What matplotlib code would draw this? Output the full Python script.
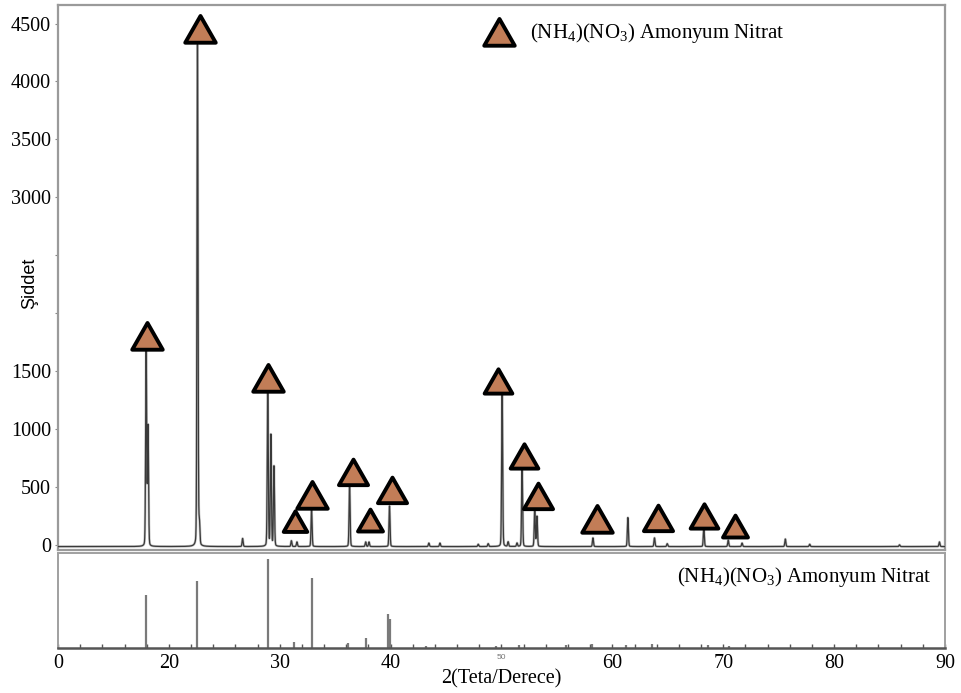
import numpy as np
import matplotlib.pyplot as plt
from matplotlib.path import Path
from matplotlib.transforms import offset_copy

# Measured diffraction peaks: position (2-theta), net counts above background
peak_theta = [17.95, 18.12, 22.58, 22.75, 26.65, 28.92, 29.20, 29.48, 31.05, 31.55,
              32.87, 36.30, 37.75, 38.05, 39.90, 43.45, 44.45, 47.90, 48.80, 50.06,
              50.60, 51.40, 51.86, 53.00, 53.20, 58.25, 61.40, 63.80, 64.95, 68.25,
              70.45, 71.70, 75.60, 77.80, 85.90, 89.50]
peak_counts = [1680, 1030, 4330, 190, 70, 1330, 960, 690, 50, 40,
               320, 530, 40, 40, 350, 30, 30, 20, 25, 1320,
               40, 30, 680, 310, 260, 75, 250, 75, 25, 160,
               55, 30, 65, 20, 15, 40]
background = -15

# Phase markers (ammonium nitrate)
marker_theta = [18.0, 22.8, 28.9, 31.4, 32.9, 36.6, 38.1, 40.1, 49.7, 52.0,
                53.3, 58.6, 64.1, 68.3, 71.1]
marker_counts = [1650, 4300, 1290, 50, 280, 480, 60, 320, 1260, 610,
                 270, 70, 75, 100, 10]
marker_size = [22, 22, 22, 17, 22, 21, 18, 21, 20, 20,
               21, 22, 21, 20, 18]

# Reference stick pattern, relative intensity
ref_theta = [17.90, 22.55, 28.95, 31.30, 32.90, 36.20, 37.80, 39.80, 39.90,
             43.20, 49.50, 51.60, 55.80, 58.20, 61.20, 63.60, 68.60, 70.50]
ref_int = [60, 76, 100, 7, 79, 6, 11, 38, 33,
           2, 2, 3, 3, 4, 3, 5, 3, 2]

y_ticks = [0, 500, 1000, 1500, 2000, 2500, 3000, 3500, 4000, 4500]
y_labels = ['0', '500', '1000', '1500', '', '', '3000', '3500', '4000', '4500']
x_ticks = [10, 20, 30, 40, 50, 60, 70, 80, 90]
x_labels = ['0', '20', '30', '40', '50', '60', '70', '80', '90']

serif = 'Liberation Serif'
tri_color = '#c27d57'
plt.rcParams['mathtext.fontset'] = 'custom'
plt.rcParams['mathtext.rm'] = serif
plt.rcParams['mathtext.it'] = serif + ':italic'

tri = Path([(-1, -0.8), (1, -0.8), (0, 0.95), (-1, -0.8)],
           [Path.MOVETO, Path.LINETO, Path.LINETO, Path.CLOSEPOLY])

# build the measured pattern from the peak table
theta = np.arange(10, 90.001, 0.01)
pattern = np.full_like(theta, background, dtype=float)
for pos, h in zip(peak_theta, peak_counts):
    w = 0.055
    pattern += h * (0.85 * np.exp(-((theta - pos) / w) ** 2 * np.log(2))
                    + 0.15 / (1 + ((theta - pos) / w) ** 2))

fig = plt.figure(figsize=(9.62, 6.93), dpi=100)
ax = fig.add_axes([0.0603, 0.2063, 0.9220, 0.7865])
ax2 = fig.add_axes([0.0603, 0.0650, 0.9220, 0.1370])

ax.plot(theta, pattern, color='#c4c4c4', lw=1.8, zorder=2)
ax.plot(theta, pattern, color='#3a3a3a', lw=0.9, zorder=3)

# triangles sit just above each indexed peak
tri_trans = offset_copy(ax.transData, fig=fig, y=12, units='points')
for t, c, s in zip(marker_theta, marker_counts, marker_size):
    ax.plot(t, c, marker=tri, ms=s, mfc=tri_color, mec='black', mew=2.8,
            transform=tri_trans, ls='none', zorder=5)

ax.set_xlim(10, 90)
ax.set_ylim(-45, 4660)
ax.set_yticks(y_ticks)
ax.set_yticklabels(y_labels, fontsize=14.5, family=serif)
ax.tick_params(axis='y', length=2, width=0.8, color='#888888', pad=3)
ax.set_xticks([])
for sp in ax.spines.values():
    sp.set_color('#9a9a9a')
    sp.set_linewidth(1.6)
ax.set_ylabel('Şiddet', fontsize=13, family='Liberation Sans')
ax.yaxis.set_label_coords(-0.022, 0.49)

# legend entry
ax.plot(49.8, 4420, marker=tri, ms=22, mfc=tri_color, mec='black', mew=2.8,
        ls='none')
ax.text(52.6, 4420, r'(NH$_4$)(NO$_3$) Amonyum Nitrat', fontsize=15,
        family=serif, va='center', ha='left')

# stick pattern
ax2.vlines(ref_theta, 0, ref_int, color='#7a7a7a', lw=1.6)
ax2.set_xlim(10, 90)
ax2.set_ylim(0, 107)
ax2.set_yticks([])
ax2.set_xticks(x_ticks)
ax2.set_xticklabels(x_labels, fontsize=14.5, family=serif)
ax2.get_xticklabels()[4].set_fontsize(6)
ax2.get_xticklabels()[4].set_color('#777777')
ax2.get_xticklabels()[4].set_family('Liberation Sans')
ax2.set_xticks(np.arange(10, 91, 2), minor=True)
ax2.tick_params(axis='x', which='both', direction='in', length=3, width=1,
                color='#555555', pad=4)
for sp in ax2.spines.values():
    sp.set_color('#a0a0a0')
    sp.set_linewidth(1.4)
ax2.spines['bottom'].set_color('#555555')
ax2.spines['bottom'].set_linewidth(1.8)
ax2.text(0.985, 0.75, r'(NH$_4$)(NO$_3$) Amonyum Nitrat', transform=ax2.transAxes,
         fontsize=15, family=serif, ha='right', va='center')
ax2.set_xlabel('2(Teta/Derece)', fontsize=14.5, family=serif, labelpad=-2)

fig.savefig('out.png', dpi=100)
